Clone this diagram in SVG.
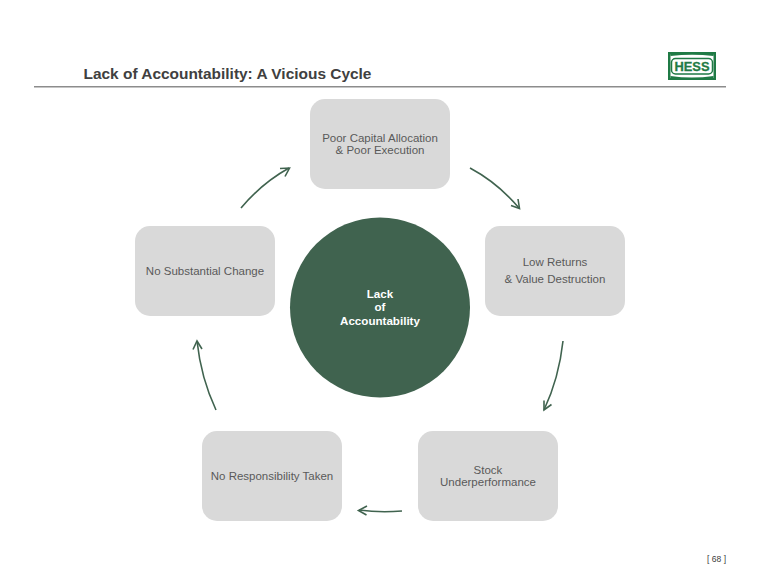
<svg xmlns="http://www.w3.org/2000/svg" width="760" height="587" viewBox="0 0 760 587">
<style>
text{font-family:"Liberation Sans",Arial,sans-serif}
.box{fill:#d9d9d9}
.lbl{font-size:11.5px;fill:#595959;text-anchor:middle}
.arc{fill:none;stroke:#40634f;stroke-width:1.6}
.head{fill:none;stroke:#40634f;stroke-width:1.6}
</style>
<rect width="760" height="587" fill="#fff"/>
<text id="title" x="83.500" y="79" font-size="15.450" font-weight="700" fill="#404040">Lack of Accountability: A Vicious Cycle</text>
<rect x="34" y="86" width="692" height="1.500" fill="#8c8c8c"/>
<g id="logo">
<rect x="668" y="52" width="48" height="28" fill="#1f7a45"/>
<path d="M670.500 66V54.500H713.500V78H670.500Z" fill="#fff"/>
<path d="M670.500 56Q692 53 713.500 56V54H670.500ZM670.500 76Q692 79 713.500 76V78H670.500Z" fill="#1f7a45"/>
<rect x="671.500" y="58.500" width="41" height="15.500" rx="4" fill="#fff" stroke="#1f7a45" stroke-width="1.500"/>
<text x="692" y="71" font-size="12.500" font-weight="700" fill="#1f7a45" stroke="#1f7a45" stroke-width="0.300" text-anchor="middle" textLength="35" lengthAdjust="spacingAndGlyphs">HESS</text>
</g>
<g id="connectors">
<path class="arc" d="M241 208Q262 183 289 168"/><path class="head" d="M280 168.500L289.500 168L285 176.500"/>
<path class="arc" d="M470 168Q498 183 519 208"/><path class="head" d="M511 205.500L519.500 208.500L518 199"/>
<path class="arc" d="M563 341Q559 378 544 410"/><path class="head" d="M544 400.500L544 410L551.500 404.500"/>
<path class="arc" d="M402 511Q380 513 359 510"/><path class="head" d="M367 506L358.500 510.500L366.500 515"/>
<path class="arc" d="M216 410Q201 378 197 341"/><path class="head" d="M193 349.500L197 341L202 349"/>
</g>
<g id="node-center">
<circle cx="380" cy="307.500" r="90" fill="#40634f"/>
<text x="380" y="298" font-size="11.600" font-weight="700" fill="#fff" text-anchor="middle">Lack</text>
<text x="380" y="311" font-size="11.600" font-weight="700" fill="#fff" text-anchor="middle">of</text>
<text x="380" y="325" font-size="11.600" font-weight="700" fill="#fff" text-anchor="middle">Accountability</text>
</g>
<g id="node-capital">
<rect class="box" x="310" y="99" width="140" height="90" rx="15"/>
<text class="lbl" x="380" y="142">Poor Capital Allocation</text>
<text class="lbl" x="380" y="154">&amp; Poor Execution</text>
</g>
<g id="node-returns">
<rect class="box" x="485" y="226" width="140" height="90" rx="15"/>
<text class="lbl" x="555" y="266">Low Returns</text>
<text class="lbl" x="555" y="283">&amp; Value Destruction</text>
</g>
<g id="node-stock">
<rect class="box" x="418" y="431" width="140" height="90" rx="15"/>
<text class="lbl" x="488" y="474">Stock</text>
<text class="lbl" x="488" y="486">Underperformance</text>
</g>
<g id="node-responsibility">
<rect class="box" x="202" y="431" width="140" height="90" rx="15"/>
<text class="lbl" x="272" y="480">No Responsibility Taken</text>
</g>
<g id="node-change">
<rect class="box" x="135" y="226" width="140" height="90" rx="15"/>
<text class="lbl" x="205" y="275">No Substantial Change</text>
</g>
<text id="page" x="726" y="562" font-size="8.500" fill="#404040" text-anchor="end">[ 68 ]</text>
</svg>
